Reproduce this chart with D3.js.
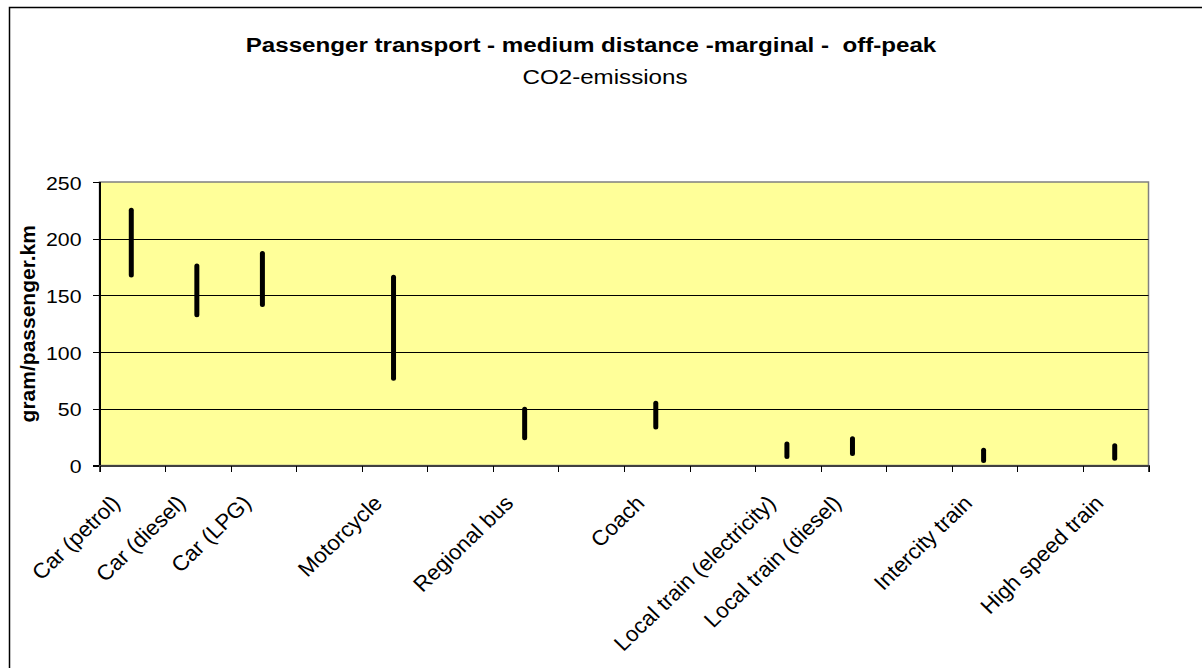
<!DOCTYPE html>
<html>
<head>
<meta charset="utf-8">
<script src="https://cdn.jsdelivr.net/npm/d3@7"></script>
<style>
  body { margin: 0; background: #fff; }
  svg { display: block; font-family: Arial, "Liberation Sans", sans-serif; }
  .axis path, .axis line { shape-rendering: crispEdges; }
</style>
</head>
<body>
<svg width="1202" height="668"></svg>
<script>
// categories along x (empty slots are gaps in the original chart)
const categories = [
    'Car (petrol)', 'Car (diesel)', 'Car (LPG)', '', 'Motorcycle', '',
    'Regional bus', '', 'Coach', '', 'Local train (electricity)',
    'Local train (diesel)', '', 'Intercity train', '', 'High speed train'
];
// low / high estimates, gram/passenger.km
const lowValues = [168, 133, 142, null, 77, null, 24.5, null, 34, null, 8, 10.5, null, 4.5, null, 6.3];
const highValues = [225, 176, 187, null, 166, null, 49.5, null, 55, null, 19, 23.5, null, 13.5, null, 17.5];
const yTicks = [0, 50, 100, 150, 200, 250];

const titleText = 'Passenger transport - medium distance -marginal -  off-peak';
const subtitleText = 'CO2-emissions';
const yLabelText = 'gram/passenger.km';

const plot = { left: 99.5, right: 1148.5, top: 182, bottom: 465.5 };
// text in the original is a bit wider than plain Arial
const stretch = 1.12;

const svg = d3.select('svg');

// outer chart border (runs off the right and bottom edge)
svg.append('rect')
    .attr('x', 9.5)
    .attr('y', 7.5)
    .attr('width', 1220)
    .attr('height', 700)
    .attr('fill', 'none')
    .attr('stroke', '#000')
    .attr('stroke-width', 1.5);

const x = d3.scaleBand()
    .domain(d3.range(categories.length))
    .range([plot.left, plot.right])
    .padding(0);

const xEdges = d3.scaleLinear()
    .domain([0, categories.length])
    .range([plot.left, plot.right]);

const y = d3.scaleLinear()
    .domain([0, 250])
    .range([plot.bottom, plot.top]);

// plot area
svg.append('rect')
    .attr('x', plot.left)
    .attr('y', plot.top)
    .attr('width', plot.right - plot.left)
    .attr('height', plot.bottom - plot.top)
    .attr('fill', '#ffff99')
    .attr('stroke', '#808080')
    .attr('stroke-width', 1.5);

// gridlines
svg.append('g')
    .selectAll('line')
    .data(yTicks.filter(v => v > 0 && v < 250))
    .join('line')
    .attr('x1', plot.left)
    .attr('x2', plot.right)
    .attr('y1', v => Math.round(y(v)) + 0.5)
    .attr('y2', v => Math.round(y(v)) + 0.5)
    .attr('stroke', '#000')
    .attr('stroke-width', 1);

// y axis
const yAxis = svg.append('g')
    .attr('class', 'axis')
    .attr('transform', `translate(${plot.left},0)`)
    .call(d3.axisLeft(y).tickValues(yTicks).tickSize(7).tickPadding(10));
yAxis.select('.domain').attr('stroke', '#000').attr('stroke-width', 1.5);
yAxis.selectAll('.tick line').attr('stroke', '#000');
yAxis.selectAll('.tick text')
    .attr('x', null)
    .attr('transform', `translate(-18,1) scale(${stretch},1)`)
    .attr('font-size', 19)
    .attr('font-family', 'Arial, "Liberation Sans", sans-serif')
    .attr('fill', '#000');

// x axis: tick marks at category edges
const xAxis = svg.append('g')
    .attr('class', 'axis')
    .attr('transform', `translate(0,${plot.bottom})`)
    .call(d3.axisBottom(xEdges).ticks(categories.length).tickSize(6).tickFormat(''));
xAxis.select('.domain').attr('stroke', '#404040').attr('stroke-width', 1.5);
xAxis.selectAll('.tick line').attr('stroke', '#000');

// category labels, rotated
svg.append('g')
    .selectAll('text')
    .data(categories.map((c, i) => ({ c, i })).filter(d => d.c))
    .join('text')
    .attr('transform', d => `translate(${x(d.i) + x.bandwidth() / 2 - 11},${plot.bottom + 39}) scale(1.04,1) rotate(-45)`)
    .attr('text-anchor', 'end')
    .attr('font-size', 21.5)
    .attr('fill', '#000')
    .text(d => d.c);

// high-low bars
svg.append('g')
    .selectAll('line')
    .data(categories.map((c, i) => ({ i, lo: lowValues[i], hi: highValues[i] })).filter(d => d.lo != null))
    .join('line')
    .attr('x1', d => x(d.i) + x.bandwidth() / 2 - 1)
    .attr('x2', d => x(d.i) + x.bandwidth() / 2 - 1)
    .attr('y1', d => y(d.lo))
    .attr('y2', d => y(d.hi))
    .attr('stroke', '#000')
    .attr('stroke-width', 5)
    .attr('stroke-linecap', 'round');

// titles
svg.append('text')
    .attr('transform', `translate(591,52) scale(1.15,1)`)
    .attr('text-anchor', 'middle')
    .attr('font-size', 21)
    .attr('font-weight', 'bold')
    .style('white-space', 'pre')
    .text(titleText);

svg.append('text')
    .attr('transform', `translate(605,84) scale(1.15,1)`)
    .attr('text-anchor', 'middle')
    .attr('font-size', 21)
    .text(subtitleText);

svg.append('text')
    .attr('transform', `translate(35,${(plot.top + plot.bottom) / 2}) rotate(-90)`)
    .attr('text-anchor', 'middle')
    .attr('font-size', 21)
    .attr('font-weight', 'bold')
    .text(yLabelText);
</script>
</body>
</html>
